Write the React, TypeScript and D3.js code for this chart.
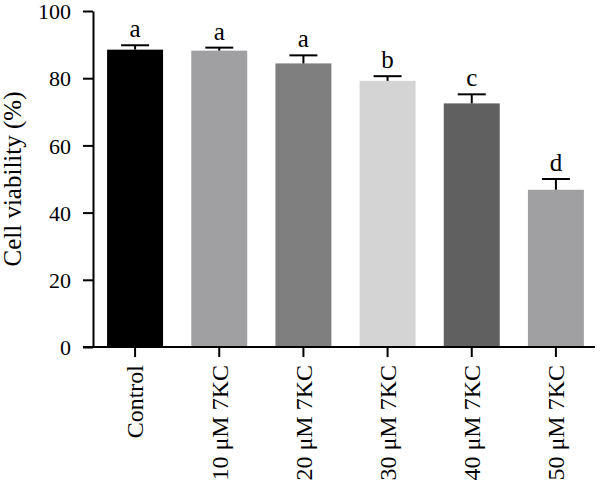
import { useEffect, useRef } from "react";
import * as d3 from "d3";

const W = 600;
const H = 488;

const categories = ["Control", "10 μM 7KC", "20 μM 7KC", "30 μM 7KC", "40 μM 7KC", "50 μM 7KC"];
const viability = [88.5, 88.2, 84.4, 79.2, 72.5, 46.8];
const errors = [1.3, 0.9, 2.4, 1.4, 2.7, 3.2];
const letters = ["a", "a", "a", "b", "c", "d"];
const barColors = ["#000000", "#a0a0a2", "#7f7f7f", "#d4d4d4", "#606060", "#a0a0a2"];
const yTicks = [0, 20, 40, 60, 80, 100];

const FONT = "'Liberation Serif', 'Times New Roman', serif";

export default function App() {
  const svgRef = useRef<SVGSVGElement>(null);

  useEffect(() => {
    if (!svgRef.current) return;
    const svg = d3.select(svgRef.current);
    svg.selectAll("*").remove();

    const left = 93;
    const right = 598;
    const top = 11;
    const bottom = 347;

    const x = d3.scaleBand<string>().domain(categories).range([left, right]).paddingInner(0.335).paddingOuter(0.1675);
    const y = d3.scaleLinear().domain([0, 100]).range([bottom, top]);

    // bars
    svg.append("g")
      .selectAll("rect")
      .data(categories)
      .join("rect")
      .attr("x", (d) => x(d)!)
      .attr("width", x.bandwidth())
      .attr("y", (_, i) => y(viability[i]))
      .attr("height", (_, i) => bottom - y(viability[i]))
      .attr("fill", (_, i) => barColors[i]);

    // upper error bars + significance letters
    const capW = x.bandwidth() / 2;
    const eg = svg.append("g").attr("stroke", "#000").attr("stroke-width", 2);
    categories.forEach((c, i) => {
      const cx = x(c)! + x.bandwidth() / 2;
      const yTop = y(viability[i] + errors[i]);
      eg.append("line").attr("x1", cx).attr("x2", cx).attr("y1", y(viability[i])).attr("y2", yTop);
      eg.append("line").attr("x1", cx - capW / 2).attr("x2", cx + capW / 2).attr("y1", yTop).attr("y2", yTop);
      svg.append("text")
        .attr("x", cx)
        .attr("y", yTop - 8)
        .attr("text-anchor", "middle")
        .attr("font-family", FONT)
        .attr("font-size", 25)
        .attr("fill", "#000")
        .text(letters[i]);
    });

    // y axis
    const yAxis = svg.append("g")
      .attr("transform", `translate(${left},0)`)
      .call(d3.axisLeft(y).tickValues(yTicks).tickSize(10).tickPadding(12).tickSizeOuter(0));
    yAxis.select(".domain").attr("stroke-width", 2);
    yAxis.selectAll(".tick line").attr("stroke-width", 2);
    yAxis.selectAll(".tick text").attr("font-family", FONT).attr("font-size", 22).attr("fill", "#000").attr("dy", "0.35em");

    // x axis
    const xAxis = svg.append("g")
      .attr("transform", `translate(0,${bottom})`)
      .call(d3.axisBottom(x).tickSize(10).tickSizeOuter(0));
    xAxis.select(".domain").attr("stroke-width", 2).attr("d", `M${left - 10},0H${right - 3}`);
    xAxis.selectAll(".tick line").attr("stroke-width", 2);
    xAxis.selectAll<SVGTextElement, string>(".tick text")
      .attr("font-family", FONT)
      .attr("font-size", 24)
      .attr("fill", "#000")
      .attr("text-anchor", "end")
      .attr("transform", "rotate(-90)")
      .attr("x", -18)
      .attr("y", 0)
      .attr("dy", "0.35em");

    // y title
    svg.append("text")
      .attr("transform", `translate(21,${(top + bottom) / 2}) rotate(-90)`)
      .attr("text-anchor", "middle")
      .attr("font-family", FONT)
      .attr("font-size", 25)
      .attr("fill", "#000")
      .text("Cell viability (%)");
  }, []);

  return (
    <svg
      ref={svgRef}
      width={W}
      height={H}
      style={{ position: "absolute", left: 0, top: 0, background: "#fff" }}
    />
  );
}
